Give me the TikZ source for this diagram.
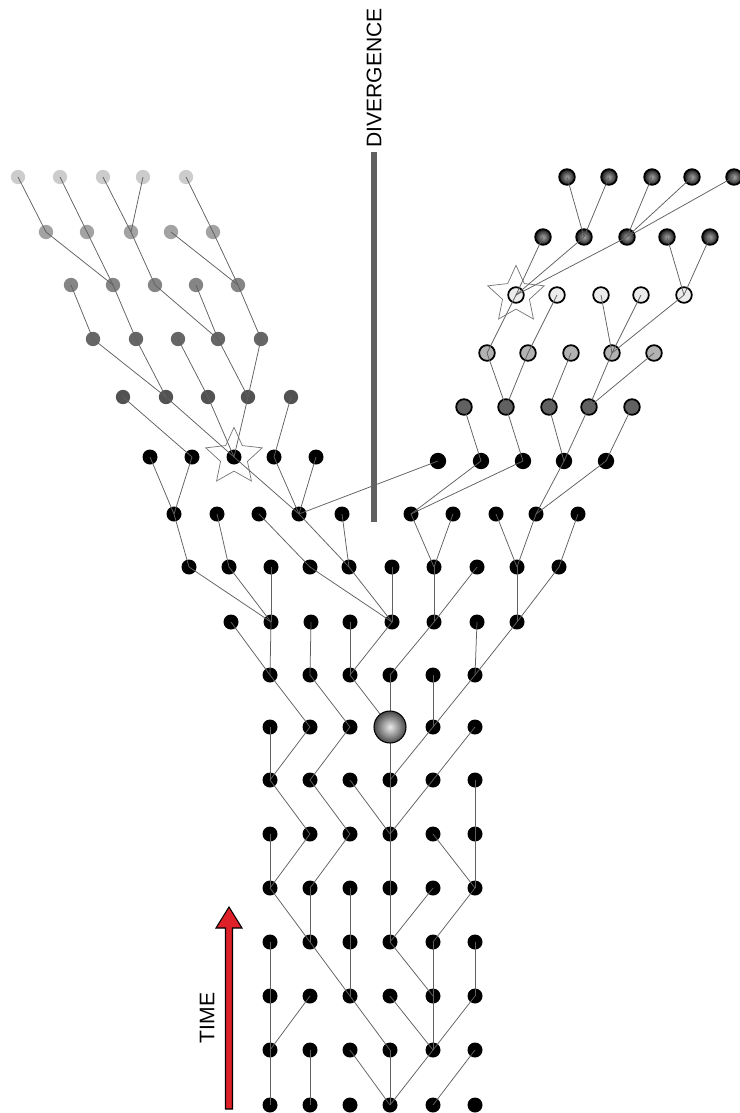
\documentclass[tikz,border=0pt]{standalone}
\usepackage{fontspec}
\setsansfont{Liberation Sans}
\usepackage{tikz}
\usetikzlibrary{shapes.geometric, calc}
\pgfdeclarelayer{front}
\pgfsetlayers{main,front}
\definecolor{timered}{RGB}{222,32,40}

\begin{document}
\begin{tikzpicture}[
    x=0.03cm, y=-0.03cm,
    dot/.style={circle, fill=black, inner sep=0pt, minimum size=0.45cm},
    bigdot/.style={dot, minimum size=0.49cm},
    fadedot/.style={circle, inner sep=0pt, minimum size=0.43cm},
    ringdot/.style={circle, draw=black, line width=1.5pt, inner sep=0pt, minimum size=0.47cm},
    shadedot/.style={ringdot, inner color=black!35, outer color=black!90},
    sphere/.style={circle, draw=black, line width=0.9pt, inner sep=0pt, minimum size=0.96cm, inner color=black!8, outer color=black!72},
    starmark/.style={star, star points=5, star point ratio=2.1, draw=black!55, line width=0.6pt, inner sep=0pt, minimum size=1.78cm},
    link/.style={draw=black!62, line width=0.65pt},
    vlabel/.style={font=\sffamily\fontsize{18}{20}\selectfont, rotate=90, inner sep=0pt}
]
\useasboundingbox (0,0) rectangle (740,1113);

% trunk
\foreach \r/\y in {a/1105,b/1050,c/996,d/942,e/888,f/834,g/780,i/675}
  \foreach \x [count=\i] in {270,310,350,390,433,475}
    \node[dot] (\r\i) at (\x,\y) {};
\foreach \i/\x in {1/270,2/310,3/350,5/433,6/475}
  \node[dot] (h\i) at (\x,727) {};
\begin{pgfonlayer}{front}
  \node[sphere] (h4) at (390,727) {};
\end{pgfonlayer}
\foreach \r/\y/\xs in {j/622/{231,271,311,350,392,434,477,517},
                       k/567/{189,229,271,310,349,392,434,477,517,559},
                       l/514/{174,217,259,299,342,411,453,496,536,578},
                       m/457/{150,192,234,274,316}}
  \foreach \x [count=\i] in \xs
    \node[dot] (\r\i) at (\x,\y) {};
\foreach \x [count=\i] in {438,481,523,564,606}
  \node[bigdot] (n\i) at (\x,461) {};

% left branch
\foreach \r/\y/\c/\xs in {la/397/black!68/{123,166,208,248,291},
                          lb/339/black!60/{93,136,178,218,261},
                          lc/285/black!48/{71,113,155,196,238},
                          ld/232/black!36/{46,87,131,171,213},
                          le/177/black!20/{18,60,103,143,186}}
  \foreach \x [count=\i] in \xs
    \node[fadedot, fill=\c] (\r\i) at (\x,\y) {};

% right branch
\foreach \r/\y/\c/\xs in {ra/407/black!62/{464,506,549,589,632},
                          rb/353/black!30/{487,528,571,612,654},
                          rc/295/black!8/{516,557,601,641,684}}
  \foreach \x [count=\i] in \xs
    \node[ringdot, fill=\c] (\r\i) at (\x,\y) {};
\foreach \r/\y/\xs in {rd/237/{543,584,627,667,710},
                       re/177/{567,609,652,692,734}}
  \foreach \x [count=\i] in \xs
    \node[shadedot] (\r\i) at (\x,\y) {};

\node[starmark] (lstar) at (m3) {};
\node[starmark] (rstar) at (rc1) {};

% lineage
\foreach \u/\v in {b1/a1, b2/a2, b3/a4, b4/a4, b5/a4, b6/a5,
                   c1/b1, c2/b1, c3/b4, c4/b5, c5/b5, c6/b5,
                   d1/c1, d2/c3, d3/c3, d4/c5, d5/c5, d6/c6,
                   e1/d2, e2/d2, e3/d3, e4/d4, e5/d4, e6/d5,
                   f1/e1, f2/e1, f3/e2, f4/e4, f5/e6, f6/e6,
                   g1/f2, g2/f3, g3/f4, g4/f4, g5/f4, g6/f6,
                   h1/g1, h2/g1, h3/g2, h4/g4, h5/g4, h6/g5,
                   i1/h2, i2/h3, i3/h4, i4/h4, i5/h5, i6/h5,
                   j1/i1, j2/i1, j3/i2, j4/i3, j5/i3, j6/i4, j7/i6, j8/i6,
                   k1/j2, k2/j2, k3/j2, k4/j5, k5/j5, k6/j5, k7/j6, k8/j6, k9/j8, k10/j8,
                   l1/k1, l2/k2, l3/k4, l4/k5, l5/k5, l6/k7, l7/k7, l8/k9, l9/k9, l10/k10,
                   m1/l1, m2/l1, m3/l4, m4/l4, m5/l4,
                   n1/l4, n2/l6, n3/l6, n4/l9, n5/l9,
                   la1/m2, la2/m3, la3/m3, la4/m3, la5/m4,
                   lb1/la2, lb2/la2, lb3/la3, lb4/la4, lb5/la4,
                   lc1/lb1, lc2/lb2, lc3/lb4, lc4/lb4, lc5/lb5,
                   ld1/lc2, ld2/lc2, ld3/lc3, ld4/lc5, ld5/lc5,
                   le1/ld1, le2/ld2, le3/ld3, le4/ld3, le5/ld5,
                   ra1/n2, ra2/n3, ra3/n4, ra4/n4, ra5/n5,
                   rb1/ra2, rb2/ra2, rb3/ra3, rb4/ra4, rb5/ra4,
                   rc1/rb1, rc2/rb2, rc3/rb4, rc4/rb4, rc5/rb4,
                   rd1/rc1, rd2/rc1, rd3/rc1, rd4/rc5, rd5/rc5,
                   re1/rd2, re2/rd2, re3/rd3, re4/rd3, re5/rd3}
  \draw[link] (\u.center) -- (\v.center);

% divergence marker
\coordinate (divtop) at (374,152);
\coordinate (divbot) at (374,522);
\draw[line width=4.5pt, black!62] (divtop) -- (divbot);
\node[vlabel] (divtext) at (374,78) {DIVERGENCE};

% time arrow
\coordinate (tbot) at (229,1109);
\coordinate (ttip) at (229,907);
\draw[fill=timered, draw=black, line width=0.9pt]
  ($(tbot)+(-3.5,0)$) -- ($(ttip)+(-3.5,21)$) -- ($(ttip)+(-13,21)$) -- (ttip)
  -- ($(ttip)+(13,21)$) -- ($(ttip)+(3.5,21)$) -- ($(tbot)+(3.5,0)$) -- cycle;
\node[vlabel] (timetext) at (207,1018) {TIME};
\end{tikzpicture}
\end{document}
